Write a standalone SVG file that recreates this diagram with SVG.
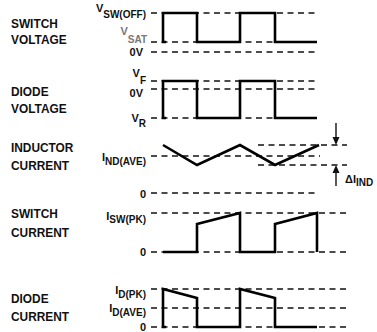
<svg xmlns="http://www.w3.org/2000/svg" width="377" height="332" viewBox="0 0 377 332">
<defs>
<style>
.lbl{font-family:"Liberation Sans",Arial,sans-serif;font-weight:bold;font-size:13.5px;fill:#111}
.val{font-family:"Liberation Sans",Arial,sans-serif;font-weight:bold;font-size:11px;fill:#111;text-anchor:end}
.sub{font-size:10px}
.dash{stroke:#111;stroke-width:1.4;stroke-dasharray:6 4.5;fill:none}
.wave{stroke:#000;stroke-width:2.6;fill:none;stroke-linejoin:miter}
.arr{stroke:#111;stroke-width:1.4;fill:none}
</style>
</defs>
<rect width="377" height="332" fill="#fff"/>

<g id="labels" transform="scale(0.88,1)">
<text class="lbl" x="12.5" y="28">SWITCH</text>
<text class="lbl" x="12.5" y="44">VOLTAGE</text>
<text class="lbl" x="12.5" y="96">DIODE</text>
<text class="lbl" x="12.5" y="113">VOLTAGE</text>
<text class="lbl" x="12.5" y="152">INDUCTOR</text>
<text class="lbl" x="12.5" y="170">CURRENT</text>
<text class="lbl" x="12.5" y="218">SWITCH</text>
<text class="lbl" x="12.5" y="237">CURRENT</text>
<text class="lbl" x="12.5" y="303">DIODE</text>
<text class="lbl" x="12.5" y="321">CURRENT</text>
</g>

<g id="switch-voltage">
<path class="dash" d="M151,13H317M151,42H317M151,52H317"/>
<path class="wave" d="M166,42H163V13H197V42H240V13H275V42H317"/>
<text class="val" x="146" y="12">V<tspan class="sub" dy="6">SW(OFF)</tspan></text>
<text class="val" x="147" y="35" style="fill:#777">V<tspan class="sub" dy="8">SAT</tspan></text>
<text class="val" x="143" y="56">0V</text>
</g>

<g id="diode-voltage">
<path class="dash" d="M151,81H317M151,89H317M151,118H317"/>
<path class="wave" d="M166,118H163V81H197V118H240V81H275V118H317"/>
<text class="val" x="146" y="77">V<tspan class="sub" dy="7">F</tspan></text>
<text class="val" x="143" y="97">0V</text>
<text class="val" x="146" y="122">V<tspan class="sub" dy="5">R</tspan></text>
</g>

<g id="inductor-current">
<path class="dash" d="M258,145H347M151,156H320M258,165H347M151,193H318"/>
<path class="wave" d="M163,145L197,165L240,145L275,165L319,145"/>
<text class="val" x="146" y="161">I<tspan class="sub" dy="4">ND(AVE)</tspan></text>
<text class="val" x="146" y="198">0</text>
<text style="font-family:'Liberation Sans',Arial,sans-serif;font-weight:bold;font-size:11px;fill:#111" x="345" y="183">ΔI<tspan class="sub" dy="3">IND</tspan></text>
</g>

<g id="switch-current">
<path class="dash" d="M151,213H347M151,252H347"/>
<path class="wave" d="M163,252H197V224L240,213V252H275V224L317,213V252"/>
<text class="val" x="146" y="220">I<tspan class="sub" dy="3">SW(PK)</tspan></text>
<text class="val" x="146" y="256">0</text>
</g>

<g id="diode-current">
<path class="dash" d="M151,289H347M151,308H347M151,327H347"/>
<path class="wave" d="M166,327H163V289L197,298V327H240V289L275,298V327H317"/>
<text class="val" x="146" y="294">I<tspan class="sub" dy="4">D(PK)</tspan></text>
<text class="val" x="146" y="312">I<tspan class="sub" dy="4">D(AVE)</tspan></text>
<text class="val" x="146" y="331">0</text>
</g>

<g id="connectors">
<path class="arr" d="M336,123V139"/>
<polygon points="332.5,137 339.5,137 336,145" fill="#111"/>
<path class="arr" d="M336,186V172"/>
<polygon points="332.5,173 339.5,173 336,165" fill="#111"/>
</g>
</svg>
